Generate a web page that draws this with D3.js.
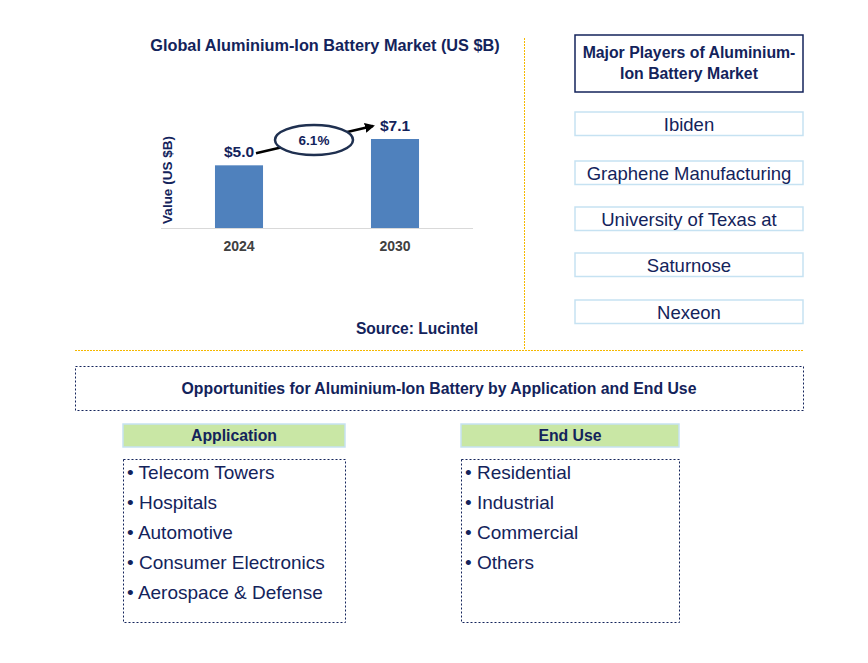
<!DOCTYPE html>
<html><head><meta charset="utf-8">
<script src="https://cdn.jsdelivr.net/npm/d3@7"></script>
<style>body{margin:0;background:#fff;font-family:Arial,"Liberation Sans",sans-serif}</style>
</head><body>
<svg id="c" width="868" height="663"></svg>
<script>
const years = ["2024", "2030"];
const values = [5.0, 7.1];
const valueLabels = ["$5.0", "$7.1"];
const cagr = "6.1%";
const players = ["Ibiden", "Graphene Manufacturing", "University of Texas at", "Saturnose", "Nexeon"];
const applications = ["Telecom Towers", "Hospitals", "Automotive", "Consumer Electronics", "Aerospace & Defense"];
const endUses = ["Residential", "Industrial", "Commercial", "Others"];

const navy = "#13235b";
const svg = d3.select("#c");
svg.append("rect").attr("width",868).attr("height",663).attr("fill","#fff");

// Title
svg.append("text").attr("x",325).attr("y",51).attr("text-anchor","middle")
  .attr("font-weight","bold").attr("font-size",16.3).attr("fill",navy)
  .text("Global Aluminium-Ion Battery Market (US $B)");

// scales
const x = d3.scaleBand().domain(years).range([161,473]).paddingInner(0.692).paddingOuter(0.346);
const y = d3.scaleLinear().domain([0,7.1]).range([228,139]);

svg.selectAll("rect.bar").data(values).enter().append("rect")
  .attr("class","bar")
  .attr("x",(d,i)=>x(years[i])).attr("width",x.bandwidth())
  .attr("y",d=>y(d)).attr("height",d=>y(0)-y(d)).attr("fill","#4f81bd");

// axis line
svg.append("line").attr("x1",161).attr("x2",473).attr("y1",228.5).attr("y2",228.5)
  .attr("stroke","#d9d9d9").attr("stroke-width",1);

const xa = svg.append("g").attr("transform","translate(0,228)")
  .call(d3.axisBottom(x).tickSize(0).tickPadding(13));
xa.select(".domain").remove();
xa.selectAll("text").attr("font-size",14).attr("font-weight","bold").attr("fill","#404040")
  .attr("font-family","Arial,'Liberation Sans',sans-serif");

// value labels
svg.selectAll("text.vl").data(values).enter().append("text").attr("class","vl")
  .attr("x",(d,i)=>x(years[i])+x.bandwidth()/2)
  .attr("y",d=>y(d)-8).attr("text-anchor","middle")
  .attr("font-weight","bold").attr("font-size",15.5).attr("fill",navy)
  .text((d,i)=>valueLabels[i]);

// y label
svg.append("text").attr("transform","translate(172,180) rotate(-90)")
  .attr("text-anchor","middle").attr("font-weight","bold").attr("font-size",13.5).attr("fill",navy)
  .text("Value (US $B)");

// arrow
const defs = svg.append("defs");
defs.append("marker").attr("id","ah").attr("viewBox","0 0 10 10").attr("refX",8).attr("refY",5)
  .attr("markerWidth",4).attr("markerHeight",4).attr("orient","auto")
  .append("path").attr("d","M0,0L10,5L0,10z").attr("fill","#000");
const x0 = x(years[0])+x.bandwidth()/2+17, y0 = y(values[0])-12;
const x1 = x(years[1])+2, y1 = y(values[1])-13;
svg.append("line").attr("x1",x0).attr("y1",y0).attr("x2",x1).attr("y2",y1)
  .attr("stroke","#000").attr("stroke-width",2.5).attr("marker-end","url(#ah)");
svg.append("ellipse").attr("cx",314).attr("cy",140).attr("rx",39).attr("ry",15)
  .attr("fill","#fff").attr("stroke","#1f3050").attr("stroke-width",2.5);
svg.append("text").attr("x",314).attr("y",145).attr("text-anchor","middle")
  .attr("font-weight","bold").attr("font-size",13.5).attr("fill",navy).text(cagr);

// source
svg.append("text").attr("x",417).attr("y",334).attr("text-anchor","middle")
  .attr("font-weight","bold").attr("font-size",15.6).attr("fill",navy).text("Source: Lucintel");

// orange dashed separators
svg.append("line").attr("x1",524.5).attr("x2",524.5).attr("y1",38).attr("y2",350)
  .attr("stroke","#f5b800").attr("stroke-width",1).attr("stroke-dasharray","2,1");
svg.append("line").attr("x1",75).attr("x2",803).attr("y1",350.5).attr("y2",350.5)
  .attr("stroke","#f5b800").attr("stroke-width",1).attr("stroke-dasharray","2,1");

// players header
svg.append("rect").attr("x",575).attr("y",35).attr("width",228).attr("height",57)
  .attr("fill","#fff").attr("stroke",navy).attr("stroke-width",1.5);
svg.append("text").attr("x",689).attr("y",58).attr("text-anchor","middle")
  .attr("font-weight","bold").attr("font-size",15.8).attr("fill",navy).text("Major Players of Aluminium-");
svg.append("text").attr("x",689).attr("y",79).attr("text-anchor","middle")
  .attr("font-weight","bold").attr("font-size",15.8).attr("fill",navy).text("Ion Battery Market");

const py = [112,161,207,253,300];
players.forEach((p,i)=>{
  svg.append("rect").attr("x",575).attr("y",py[i]).attr("width",228).attr("height",23.5)
    .attr("fill","#fff").attr("stroke","#c6e2f2").attr("stroke-width",1.5);
  svg.append("text").attr("x",689).attr("y",py[i]+19).attr("text-anchor","middle")
    .attr("font-size",18.5).attr("fill",navy).text(p);
});

// opportunities box
svg.append("rect").attr("x",75.5).attr("y",366.5).attr("width",728).attr("height",44)
  .attr("fill","none").attr("stroke",navy).attr("stroke-width",1).attr("stroke-dasharray","2,2");
svg.append("text").attr("x",439).attr("y",394).attr("text-anchor","middle")
  .attr("font-weight","bold").attr("font-size",15.8).attr("fill",navy)
  .text("Opportunities for Aluminium-Ion Battery by Application and End Use");

function panel(x0, w, title, items){
  svg.append("rect").attr("x",x0).attr("y",424).attr("width",w).attr("height",23)
    .attr("fill","#c9e7a5").attr("stroke","#c6e2f2").attr("stroke-width",1.5);
  svg.append("text").attr("x",x0+w/2).attr("y",441).attr("text-anchor","middle")
    .attr("font-weight","bold").attr("font-size",15.8).attr("fill",navy).text(title);
  svg.append("rect").attr("x",x0+0.5).attr("y",459.5).attr("width",w).attr("height",163)
    .attr("fill","none").attr("stroke",navy).attr("stroke-width",1).attr("stroke-dasharray","2,2");
  items.forEach((t,i)=>{
    svg.append("text").attr("x",x0+4).attr("y",479+i*30)
      .attr("font-size",19).attr("fill",navy).text("\u2022 "+t);
  });
}
panel(123,222,"Application",applications);
panel(461,218,"End Use",endUses);
</script>
</body></html>
